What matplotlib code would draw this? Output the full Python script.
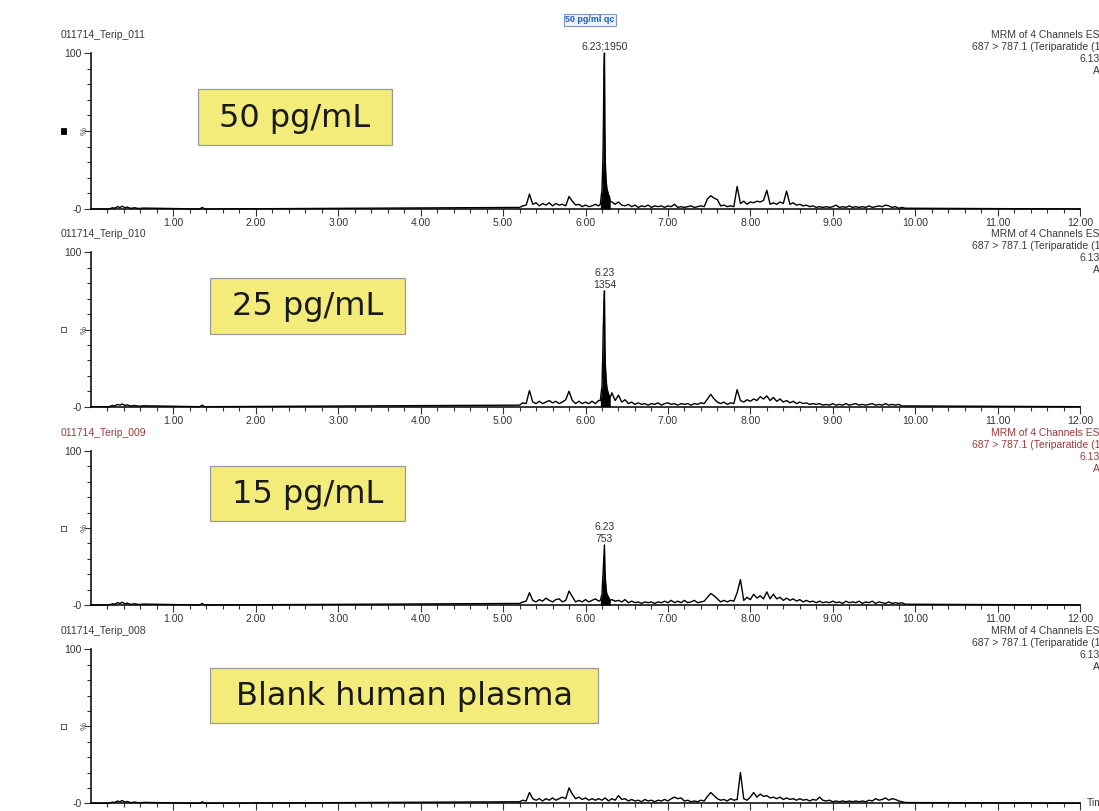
import numpy as np
import matplotlib
matplotlib.use("Agg")
import matplotlib.pyplot as plt
from matplotlib.patches import Rectangle

# ---- data (intensity in % of the 50 pg/mL peak, time in min) ----
t_noise = np.round(np.linspace(5.20, 9.88, 118), 2)

t_early = [0.22, 0.26, 0.29, 0.32, 0.35, 0.38, 0.41, 0.44, 0.48, 0.53, 0.58, 0.64, 1.32, 1.35, 1.38]
i_early = [0.0, 0.8, 0.5, 1.5, 1.0, 1.8, 0.8, 1.2, 0.4, 0.8, 0.3, 0.6, 0.0, 1.0, 0.0]

t_peak = [6.18, 6.19, 6.21, 6.215, 6.22, 6.225, 6.23, 6.235, 6.25, 6.26, 6.27, 6.29, 6.30]

noise_50 = [
    1.0, 2.0, 2.5, 9.5, 3.0, 4.0, 2.0, 3.5, 2.5, 4.0,
    2.0, 3.5, 2.5, 3.0, 2.0, 8.0, 5.0, 2.5, 3.0, 1.5,
    2.5, 1.5, 2.0, 3.0, 2.0, 12.0, 30.0, 9.0, 4.5, 3.0,
    4.5, 2.5, 2.0, 3.0, 1.5, 2.5, 1.0, 2.0, 1.5, 2.5,
    1.0, 2.0, 1.5, 2.0, 1.0, 2.0, 1.5, 3.0, 1.0, 1.5,
    1.0, 1.5, 2.0, 1.0, 1.5, 2.0, 1.5, 6.5, 8.5, 7.0,
    6.0, 2.0, 2.5, 1.5, 2.0, 1.5, 14.5, 3.5, 5.0, 3.0,
    4.5, 4.0, 5.0, 4.5, 5.5, 12.0, 3.0, 4.0, 3.0, 4.5,
    3.5, 11.5, 3.0, 4.0, 2.5, 3.0, 2.0, 2.5, 1.5, 2.0,
    1.0, 1.5, 1.0, 1.5, 1.0, 1.5, 2.5, 1.0, 1.5, 1.0,
    2.0, 1.0, 1.5, 1.0, 1.5, 1.0, 2.0, 1.0, 1.5, 2.0,
    1.5, 2.5, 2.0, 1.0, 1.5, 0.5, 1.0, 0.5]
peak_50 = [3, 8, 30, 45, 70, 91, 100, 50, 18, 13, 11, 8, 5]

noise_25 = [
    1.0, 2.5, 2.0, 10.5, 3.0, 2.0, 3.5, 2.0, 3.0, 4.0,
    2.5, 3.5, 2.0, 3.0, 4.5, 10.0, 4.0, 2.0, 3.5, 2.0,
    3.0, 2.0, 3.5, 2.0, 4.0, 13.0, 28.0, 8.0, 9.0, 4.0,
    7.5, 3.0, 4.5, 2.0, 3.0, 1.5, 2.5, 1.5, 2.0, 1.0,
    2.0, 1.5, 2.5, 1.0, 2.0, 2.5, 1.5, 2.0, 1.0, 2.0,
    1.5, 2.0, 1.0, 2.0, 1.5, 2.5, 2.0, 5.0, 8.0, 5.0,
    3.0, 2.0, 3.0, 1.5, 2.5, 2.0, 11.0, 4.0, 3.0, 4.5,
    3.5, 5.0, 4.0, 6.5, 5.0, 7.0, 4.0, 6.0, 3.5, 5.0,
    3.0, 4.0, 2.5, 3.5, 2.0, 3.0, 2.0, 2.5, 1.5, 2.0,
    1.5, 2.0, 1.0, 1.5, 1.0, 2.0, 1.0, 1.5, 1.0, 2.0,
    1.0, 1.5, 2.0, 1.0, 1.5, 1.0, 1.5, 2.0, 1.0, 1.5,
    1.0, 2.0, 1.0, 1.5, 1.0, 1.5, 0.5, 0.5]
peak_25 = [4, 9, 35, 50, 60, 68, 75, 40, 18, 12, 10, 7, 6]

noise_15 = [
    1.0, 2.0, 2.5, 8.0, 3.0, 2.0, 3.5, 2.5, 4.5, 3.0,
    2.0, 3.5, 4.0, 2.0, 3.0, 9.0, 5.5, 2.0, 3.0, 2.0,
    3.5, 2.0, 3.0, 4.0, 2.5, 7.0, 18.0, 5.0, 3.5, 2.5,
    3.0, 2.0, 3.5, 1.5, 2.5, 1.5, 2.0, 1.0, 2.0, 1.5,
    2.0, 1.0, 2.0, 1.5, 2.5, 1.5, 3.0, 1.5, 2.5, 1.5,
    3.0, 1.5, 2.0, 3.0, 1.5, 2.0, 2.5, 5.0, 7.5, 6.0,
    4.0, 2.0, 3.0, 2.0, 3.0, 2.5, 8.0, 16.5, 3.0, 5.0,
    3.5, 7.0, 4.5, 6.0, 4.0, 8.5, 4.0, 7.0, 4.0, 5.0,
    3.0, 4.5, 3.0, 4.0, 2.5, 3.5, 2.0, 3.0, 2.0, 2.5,
    1.5, 2.5, 1.5, 2.0, 1.5, 2.5, 1.5, 2.0, 1.0, 2.5,
    1.5, 2.0, 1.5, 2.5, 1.0, 2.0, 1.5, 2.5, 1.0, 2.0,
    1.5, 1.0, 2.0, 1.0, 1.5, 1.0, 1.5, 0.5]
peak_15 = [3, 5, 18, 24, 30, 34, 39, 24, 10, 7, 6, 4, 3]

noise_blank = [
    1.0, 2.0, 1.5, 7.0, 3.0, 2.0, 3.0, 1.5, 3.0, 2.0,
    3.5, 2.0, 3.0, 4.0, 3.0, 10.0, 6.0, 3.0, 4.0, 2.5,
    3.5, 2.0, 3.0, 2.0, 3.0, 2.0, 3.5, 1.5, 3.0, 2.0,
    5.0, 2.5, 3.0, 1.5, 2.5, 1.5, 2.0, 1.0, 2.5, 1.5,
    2.0, 1.0, 2.0, 1.5, 2.5, 1.5, 3.0, 4.0, 3.0, 3.5,
    1.5, 2.0, 1.0, 1.5, 1.0, 2.0, 1.5, 4.5, 7.0, 5.0,
    3.0, 2.0, 2.5, 1.5, 3.0, 2.0, 2.5, 20.0, 3.0, 2.0,
    4.0, 7.0, 4.0, 6.0, 4.5, 5.0, 3.5, 4.0, 3.0, 4.0,
    2.5, 3.5, 2.5, 3.0, 2.0, 3.0, 2.0, 2.5, 1.5, 2.5,
    2.0, 4.0, 2.0, 1.5, 2.0, 1.0, 1.5, 1.0, 1.5, 1.0,
    1.5, 1.0, 1.5, 1.0, 1.5, 1.0, 2.0, 1.5, 3.0, 2.0,
    2.5, 3.5, 2.0, 3.0, 2.5, 1.5, 1.0, 0.5]

noise = [noise_50, noise_25, noise_15, noise_blank]
peaks = [peak_50, peak_25, peak_15, None]
run_names = ["011714_Terip_011", "011714_Terip_010", "011714_Terip_009", "011714_Terip_008"]
conc_labels = ["50 pg/mL", "25 pg/mL", "15 pg/mL", "Blank human plasma"]
peak_texts = ["6.23;1950", "6.23\n1354", "6.23\n753", None]
x_major = list(range(1, 13))

# ---- layout (pixels of the 1099x811 picture) ----
W, H = 1099, 811
ax_top = [53, 252.3, 451, 649.3]
ax_bot = [209, 406.7, 605, 803.3]
x_left, x_right = 91, 1080
boxes = [(198, 89, 392, 145), (210, 278, 405, 334), (210, 466, 405, 521), (210, 668, 598, 723)]


def fx(x):
    return x / W


def fy(y):
    return 1 - y / H


plt.rcParams['font.family'] = ['Liberation Sans', 'DejaVu Sans']
fig = plt.figure(figsize=(W / 100, H / 100), dpi=100)

for k in range(4):
    ax = fig.add_axes([fx(x_left), fy(ax_bot[k]), (x_right - x_left) / W,
                       (ax_bot[k] - ax_top[k]) / H])
    t = list(t_early) + list(t_noise)
    y = list(i_early) + list(noise[k])
    if peaks[k] is not None:
        t += t_peak
        y += peaks[k]
    t = [0.0] + t + [12.0]
    y = [0.0] + y + [0.0]
    order = np.argsort(t)
    t = np.array(t)[order]
    y = np.array(y)[order]

    ax.plot(t, y, color='black', lw=1.0, clip_on=False, zorder=3)
    if peaks[k] is not None:
        ax.fill_between(t, 0, y, where=(t >= 6.18) & (t <= 6.30),
                        color='black', lw=0, zorder=3)
        top = max(peaks[k])
        ax.annotate(peak_texts[k], xy=(6.23, top), xytext=(0, 1),
                    textcoords='offset points', ha='center', va='bottom',
                    fontsize=7.5, color='#333333', linespacing=1.15,
                    annotation_clip=False)

    ax.set_xlim(0, 12)
    ax.set_ylim(0, 100)
    ax.spines[['top', 'right']].set_visible(False)
    for s in ['left', 'bottom']:
        ax.spines[s].set_linewidth(1.1)
    ax.set_xticks(x_major)
    if k < 3:
        ax.set_xticklabels([f"{v:.2f}" for v in x_major])
    else:
        # the last panel's time labels fall below the picture edge
        ax.set_xticklabels([])
    ax.set_xticks(np.arange(0.2, 12.0, 0.2), minor=True)
    ax.set_yticks([0, 50, 100])
    ax.set_yticklabels(['-0', '', '100'])
    ax.set_yticks(range(10, 100, 10), minor=True)
    ax.tick_params(which='major', length=5, width=0.8, labelsize=7.5,
                   colors='#333333', pad=1.5)
    ax.tick_params(which='minor', length=3, width=0.8, color='#333333')
    ax.text(-0.002, 0.5, '%', transform=ax.transAxes, rotation=90,
            ha='right', va='center', fontsize=6.5, color='#444444')

    # header texts
    col = '#9b3b3b' if k == 2 else '#3a3a3a'
    top_px = ax_top[k]
    fig.text(fx(61), fy(top_px - 18), run_names[k], fontsize=7.5, color=col,
             ha='left', va='center')
    fig.text(fx(991), fy(top_px - 18), "MRM of 4 Channels ES+", fontsize=7.5,
             color=col, ha='left', va='center')
    fig.text(fx(972), fy(top_px - 6), "687 > 787.1 (Teriparatide (1-34))",
             fontsize=7.5, color=col, ha='left', va='center')
    fig.text(fx(1080), fy(top_px + 6), "6.13e3", fontsize=7.5, color=col,
             ha='left', va='center')
    fig.text(fx(1093), fy(top_px + 18), "Area", fontsize=7.5, color=col,
             ha='left', va='center')

    # little trace marker square
    yc = (ax_top[k] + ax_bot[k]) / 2
    if k == 0:
        sq = Rectangle((fx(61), fy(yc + 2.5)), 5 / W, 5 / H, facecolor='black',
                       edgecolor='black', lw=0.6)
    else:
        sq = Rectangle((fx(61), fy(yc + 2.5)), 5 / W, 5 / H, facecolor='white',
                       edgecolor='#555555', lw=0.7)
    fig.add_artist(sq)

    # concentration box
    x0, y0, x1, y1 = boxes[k]
    fig.add_artist(Rectangle((fx(x0), fy(y1)), (x1 - x0) / W, (y1 - y0) / H,
                             facecolor='#F3EC7A', edgecolor='#9a9a9a', lw=0.9,
                             zorder=5))
    fig.text(fx((x0 + x1) / 2), fy((y0 + y1) / 2 + 1), conc_labels[k],
             family='DejaVu Sans', fontsize=23, color='#1a1a1a',
             ha='center', va='center', zorder=6)

fig.text(fx(590), fy(20), "50 pg/ml qc", fontsize=6.5, fontweight='bold',
         color='#1f5fbf', ha='center', va='center',
         bbox=dict(boxstyle='square,pad=0.2', fc='#eef3fb', ec='#7f97bf', lw=0.8))
fig.text(fx(1087), fy(803), "Time", fontsize=7.5, color='#3a3a3a',
         ha='left', va='center')

fig.savefig("out.png", dpi=100)
